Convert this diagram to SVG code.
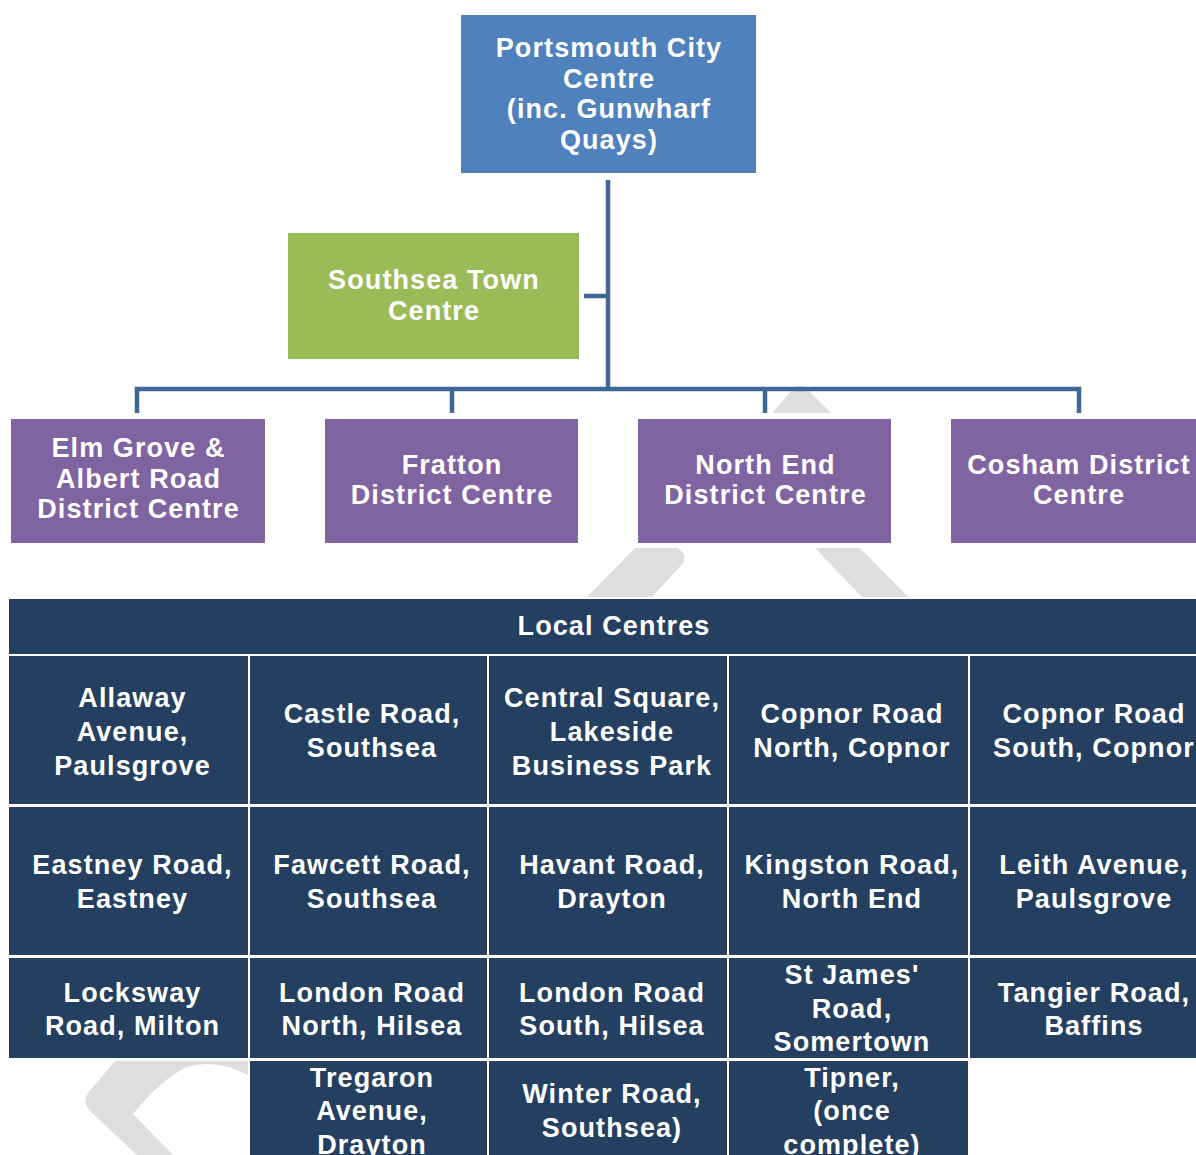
<svg xmlns="http://www.w3.org/2000/svg" width="1196" height="1155" viewBox="0 0 1196 1155">
<style>
  text { font-family: "Liberation Sans", Arial, sans-serif; font-weight: bold; font-size: 27px; fill: #FFFFFF; text-anchor: middle; letter-spacing: 1.1px; }
  .wm { fill: #DEDEDE; }
  .blue { fill: #4F81BD; }
  .green { fill: #9BBB59; }
  .purple { fill: #8064A2; }
  .cell { fill: #243F60; }
  .conn { stroke: #3F6898; stroke-width: 4.5; fill: none; }
</style>
<rect x="0" y="0" width="1196" height="1155" fill="#FFFFFF"/>

<g id="watermark">
  <path class="wm" d="M772,413 L792,390 Q800,382 808,390 L831,413 Z"/>
  <path class="wm" d="M635,548 L677,548 Q686,552 684,562 L652,597 L587,597 Z"/>
  <path class="wm" d="M815,548 L860,548 L908,597 L862,597 Z"/>
  <path class="wm" d="M115,1061 L248,1061 L248,1075 Q215,1058 187,1067 Q160,1080 133,1114 L173,1155 L137,1155 L89,1110 Q82,1102 88,1093 Z"/>
</g>

<g id="connectors">
  <line class="conn" x1="608" y1="180" x2="608" y2="389"/>
  <line class="conn" x1="584" y1="296" x2="608" y2="296"/>
  <polyline class="conn" points="137,413 137,389 1079,389 1079,413"/>
  <line class="conn" x1="452" y1="389" x2="452" y2="413"/>
  <line class="conn" x1="765" y1="389" x2="765" y2="413"/>
</g>

<g id="node-portsmouth">
  <rect class="blue" x="461" y="15" width="295" height="158"/>
  <text x="609" y="57">Portsmouth City</text>
  <text x="609" y="87.5">Centre</text>
  <text x="609" y="118">(inc. Gunwharf</text>
  <text x="609" y="148.5">Quays)</text>
</g>

<g id="node-southsea">
  <rect class="green" x="288" y="233" width="291" height="126"/>
  <text x="434" y="289">Southsea Town</text>
  <text x="434" y="319.5">Centre</text>
</g>

<g id="node-elmgrove">
  <rect class="purple" x="11" y="419" width="254" height="124"/>
  <text x="138.5" y="457">Elm Grove &amp;</text>
  <text x="138.5" y="488">Albert Road</text>
  <text x="138.5" y="518">District Centre</text>
</g>

<g id="node-fratton">
  <rect class="purple" x="325" y="419" width="253" height="124"/>
  <text x="452" y="474">Fratton</text>
  <text x="452" y="504">District Centre</text>
</g>

<g id="node-northend">
  <rect class="purple" x="638" y="419" width="253" height="124"/>
  <text x="765.5" y="474">North End</text>
  <text x="765.5" y="504">District Centre</text>
</g>

<g id="node-cosham">
  <rect class="purple" x="951" y="419" width="254" height="124"/>
  <text x="1079" y="474">Cosham District</text>
  <text x="1079" y="504">Centre</text>
</g>

<g id="table-local-centres">
  <g id="header-local-centres">
    <rect class="cell" x="9" y="599" width="1200" height="55"/>
    <text x="614" y="635">Local Centres</text>
  </g>

  <g id="cell-allaway">
    <rect class="cell" x="9" y="656" width="239" height="148"/>
    <text x="132.5" y="706.5">Allaway</text>
    <text x="132.5" y="740.5">Avenue,</text>
    <text x="132.5" y="774.5">Paulsgrove</text>
  </g>
  <g id="cell-castle">
    <rect class="cell" x="250" y="656" width="237" height="148"/>
    <text x="372" y="723">Castle Road,</text>
    <text x="372" y="757">Southsea</text>
  </g>
  <g id="cell-central">
    <rect class="cell" x="489" y="656" width="238" height="148"/>
    <text x="612" y="706.5">Central Square,</text>
    <text x="612" y="740.5">Lakeside</text>
    <text x="612" y="774.5">Business Park</text>
  </g>
  <g id="cell-copnor-north">
    <rect class="cell" x="729" y="656" width="239" height="148"/>
    <text x="852" y="723">Copnor Road</text>
    <text x="852" y="757">North, Copnor</text>
  </g>
  <g id="cell-copnor-south">
    <rect class="cell" x="970" y="656" width="240" height="148"/>
    <text x="1094" y="723">Copnor Road</text>
    <text x="1094" y="757">South, Copnor</text>
  </g>

  <g id="cell-eastney">
    <rect class="cell" x="9" y="807" width="239" height="148"/>
    <text x="132.5" y="874">Eastney Road,</text>
    <text x="132.5" y="908">Eastney</text>
  </g>
  <g id="cell-fawcett">
    <rect class="cell" x="250" y="807" width="237" height="148"/>
    <text x="372" y="874">Fawcett Road,</text>
    <text x="372" y="908">Southsea</text>
  </g>
  <g id="cell-havant">
    <rect class="cell" x="489" y="807" width="238" height="148"/>
    <text x="612" y="874">Havant Road,</text>
    <text x="612" y="908">Drayton</text>
  </g>
  <g id="cell-kingston">
    <rect class="cell" x="729" y="807" width="239" height="148"/>
    <text x="852" y="874">Kingston Road,</text>
    <text x="852" y="908">North End</text>
  </g>
  <g id="cell-leith">
    <rect class="cell" x="970" y="807" width="240" height="148"/>
    <text x="1094" y="874">Leith Avenue,</text>
    <text x="1094" y="908">Paulsgrove</text>
  </g>

  <g id="cell-locksway">
    <rect class="cell" x="9" y="958" width="239" height="100"/>
    <text x="132.5" y="1001.5">Locksway</text>
    <text x="132.5" y="1034.5">Road, Milton</text>
  </g>
  <g id="cell-london-north">
    <rect class="cell" x="250" y="958" width="237" height="100"/>
    <text x="372" y="1001.5">London Road</text>
    <text x="372" y="1034.5">North, Hilsea</text>
  </g>
  <g id="cell-london-south">
    <rect class="cell" x="489" y="958" width="238" height="100"/>
    <text x="612" y="1001.5">London Road</text>
    <text x="612" y="1034.5">South, Hilsea</text>
  </g>
  <g id="cell-st-james">
    <rect class="cell" x="729" y="958" width="239" height="100"/>
    <text x="852" y="984">St James'</text>
    <text x="852" y="1017.5">Road,</text>
    <text x="852" y="1051">Somertown</text>
  </g>
  <g id="cell-tangier">
    <rect class="cell" x="970" y="958" width="240" height="100"/>
    <text x="1094" y="1001.5">Tangier Road,</text>
    <text x="1094" y="1034.5">Baffins</text>
  </g>

  <g id="cell-tregaron">
    <rect class="cell" x="250" y="1061" width="237" height="110"/>
    <text x="372" y="1086.5">Tregaron</text>
    <text x="372" y="1120">Avenue,</text>
    <text x="372" y="1153.5">Drayton</text>
  </g>
  <g id="cell-winter">
    <rect class="cell" x="489" y="1061" width="238" height="110"/>
    <text x="612" y="1103">Winter Road,</text>
    <text x="612" y="1137">Southsea)</text>
  </g>
  <g id="cell-tipner">
    <rect class="cell" x="729" y="1061" width="239" height="110"/>
    <text x="852" y="1086.5">Tipner,</text>
    <text x="852" y="1120">(once</text>
    <text x="852" y="1153.5">complete)</text>
  </g>
</g>
</svg>
